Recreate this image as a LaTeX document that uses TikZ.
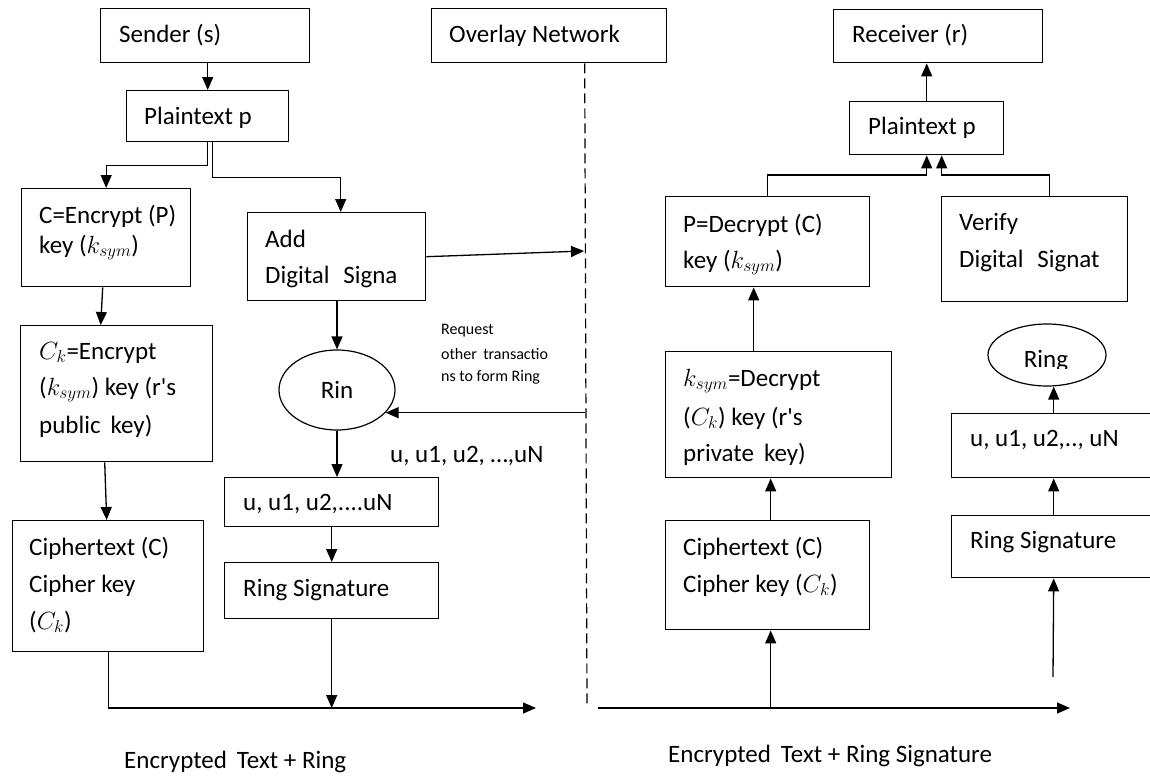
\documentclass[tikz,border=0pt]{standalone}
\usepackage{fontspec}
\setmainfont{Carlito}
\usetikzlibrary{arrows.meta,shapes.geometric}
\begin{document}
\begin{tikzpicture}[x=1pt,y=-1pt,
  box/.style={draw, line width=1.4pt, rectangle, inner sep=0pt, anchor=north west},
  oval/.style={draw, line width=1.2pt, ellipse, inner sep=0pt, font=\fontsize{25}{30}\selectfont},
  txt/.style={anchor=base west, inner sep=0pt, font=\fontsize{25}{30}\selectfont},
  small/.style={anchor=base west, inner sep=0pt, font=\fontsize{16}{19}\selectfont},
  link/.style={line width=1.3pt, -{Triangle[length=13pt,width=11pt]}},
  plain/.style={line width=1.3pt},
  sep/.style={line width=1.2pt, dash pattern=on 10pt off 5pt}
]
\useasboundingbox (0,0) rectangle (1150,776);
\clip (0,0) rectangle (1150,776);

% ---------- sender side ----------
\node[box, minimum width=209pt, minimum height=54pt] (sender) at (100,8) {};
\node[box, minimum width=162pt, minimum height=51pt] (plainL) at (126,90) {};
\node[box, minimum width=169pt, minimum height=98pt] (encC) at (21,188) {};
\node[box, minimum width=178pt, minimum height=88pt] (addDS) at (247,212) {};
\node[box, minimum width=192pt, minimum height=136pt] (ck) at (20,325) {};
\node[box, minimum width=191pt, minimum height=131pt] (cipherL) at (12,520) {};
\node[oval, minimum width=116pt, minimum height=80pt] (rin) at (337,390) {Rin};
\node[box, minimum width=214pt, minimum height=49pt] (uL) at (224,477) {};
\node[box, minimum width=214pt, minimum height=56pt] (rsL) at (224,562) {};

\node[txt] (tSender) at (119,43) {Sender (s)};
\node[txt] (tPlainL) at (144,124) {Plaintext p};
\node[txt] (tEnc1) at (39,223) {C=Encrypt (P)};
\node[txt] (tEnc2) at (39,253) {key ($k_{sym}$)};
\node[txt] (tAdd1) at (265,247) {Add};
\node[txt] (tAdd2) at (265,283) {Digital\hspace{0.55em}Signa};
\node[txt] (tCk1) at (39,359) {$C_k$=Encrypt};
\node[txt] (tCk2) at (39,395) {($k_{sym}$) key (r\textquotesingle s};
\node[txt] (tCk3) at (39,433) {public\hspace{0.4em}key)};
\node[txt] (tCiL1) at (29,555) {Ciphertext (C)};
\node[txt] (tCiL2) at (29,592) {Cipher key};
\node[txt] (tCiL3) at (29,629) {($C_k$)};
\node[txt] (tUL) at (243,510) {u, u1, u2,....uN};
\node[txt] (tRsL) at (243,596) {Ring Signature};
\node[small] (tReq1) at (441,334) {Request};
\node[small] (tReq2) at (441,359) {other\hspace{0.4em}transactio};
\node[small] (tReq3) at (441,381) {ns to form Ring};
\node[txt] (tUlist) at (390,462) {u, u1, u2, …,uN};
\node[txt] (tBotL) at (124,768) {Encrypted\hspace{0.4em}Text + Ring};

% ---------- overlay network ----------
\node[box, minimum width=235pt, minimum height=54pt] (overlay) at (431,8) {};
\node[txt] (tOverlay) at (449,43) {Overlay Network};
\coordinate (dtop) at ([xshift=35.5pt]overlay.south);
\coordinate (dbot) at (587,708);
\draw[sep] (dtop) -- (dbot);

% ---------- receiver side ----------
\node[box, minimum width=209pt, minimum height=53pt] (receiver) at (833,9) {};
\node[box, minimum width=154pt, minimum height=53pt] (plainR) at (849,101) {};
\node[box, minimum width=204pt, minimum height=90pt] (decP) at (665,196) {};
\node[box, minimum width=186pt, minimum height=105pt] (verify) at (941,196) {};
\node[box, minimum width=226pt, minimum height=126pt] (ksym) at (665,351) {};
\node[box, minimum width=204pt, minimum height=109pt] (cipherR) at (665,520) {};
\node[oval, minimum width=118pt, minimum height=62pt] (ringR) at (1047,355) {};
\node[box, minimum width=204pt, minimum height=64pt] (uR) at (951,413) {};
\node[box, minimum width=204pt, minimum height=62pt] (rsR) at (951,515) {};

\node[txt] (tReceiver) at (852,43) {Receiver (r)};
\node[txt] (tPlainR) at (868,134) {Plaintext p};
\node[txt] (tDec1) at (683,232) {P=Decrypt (C)};
\node[txt] (tDec2) at (683,268) {key ($k_{sym}$)};
\node[txt] (tVer1) at (959,230) {Verify};
\node[txt] (tVer2) at (959,267) {Digital\hspace{0.55em}Signat};
\node[txt] (tKs1) at (683,386) {$k_{sym}$=Decrypt};
\node[txt] (tKs2) at (683,425) {($C_k$) key (r\textquotesingle s};
\node[txt] (tKs3) at (683,461) {private\hspace{0.4em}key)};
\node[txt] (tCiR1) at (683,555) {Ciphertext (C)};
\node[txt] (tCiR2) at (683,592) {Cipher key ($C_k$)};
\begin{scope}
  \clip (990,330) rectangle (1105,368);
  \node[txt, anchor=base] (tRingR) at (1046,367) {Ring};
\end{scope}
\node[txt] (tUR) at (970,446) {u, u1, u2,.., uN};
\node[txt] (tRsR) at (970,548) {Ring Signature};
\node[txt] (tBotR) at (668,762) {Encrypted\hspace{0.4em}Text + Ring Signature};

% ---------- connectors: sender side ----------
\draw[link] (plainL.north |- sender.south) -- (plainL.north);
\draw[link] (plainL.south) -- ++(0,23) -| (encC.north);
\draw[link] ([xshift=5pt]plainL.south) -- ++(0,35) -| ([xshift=4pt]addDS.north);
\draw[link] ([xshift=-3.5pt]encC.south) -- ([xshift=-16pt]ck.north);
\draw[link] ([xshift=-12pt]ck.south) -- ([xshift=-1.5pt]cipherL.north);
\coordinate (dAdd) at (584,251);
\draw[link] (addDS.east) -- (dAdd);
\draw[link] (rin.-25 -| dtop) -- (rin.-25);
\draw[link] (rin.north |- addDS.south) -- (rin.north);
\draw[link] (rin.south) -- (rin.south |- uL.north);
\draw[link] (uL.south) -- (rsL.north);
\coordinate (botL) at (536,708);
\draw[link] (rsL.south) -- (rsL.south |- botL);
\draw[link] (cipherL.south) -- (cipherL.south |- botL) -- (botL);

% ---------- connectors: receiver side ----------
\coordinate (botRs) at (598,708);
\coordinate (botRe) at (1070,708);
\draw[link] (botRs) -- (botRe);
\coordinate (cR) at ([xshift=3pt]cipherR.south);
\draw[link] (cR |- botRs) -- (cR);
\draw[link] ([xshift=3pt]cipherR.north) -- ([xshift=3pt]cipherR.north |- ksym.south);
\draw[link] ([xshift=-25pt]ksym.north) -- ([xshift=-25pt]ksym.north |- decP.south);
\draw[link] (decP.north) -- ++(0,-21) -| (plainR.south);
\draw[link] ([xshift=15pt]verify.north) -- ++(0,-21) -| ([xshift=15pt]plainR.south);
\draw[link] (plainR.north) -- (plainR.north |- receiver.south);
\coordinate (free) at (1053,677);
\draw[link] (free) -- (rsR.south);
\draw[link] (rsR.north) -- (uR.south);
\draw[link] (uR.north) -- (uR.north |- ringR.south);
\end{tikzpicture}
\end{document}
